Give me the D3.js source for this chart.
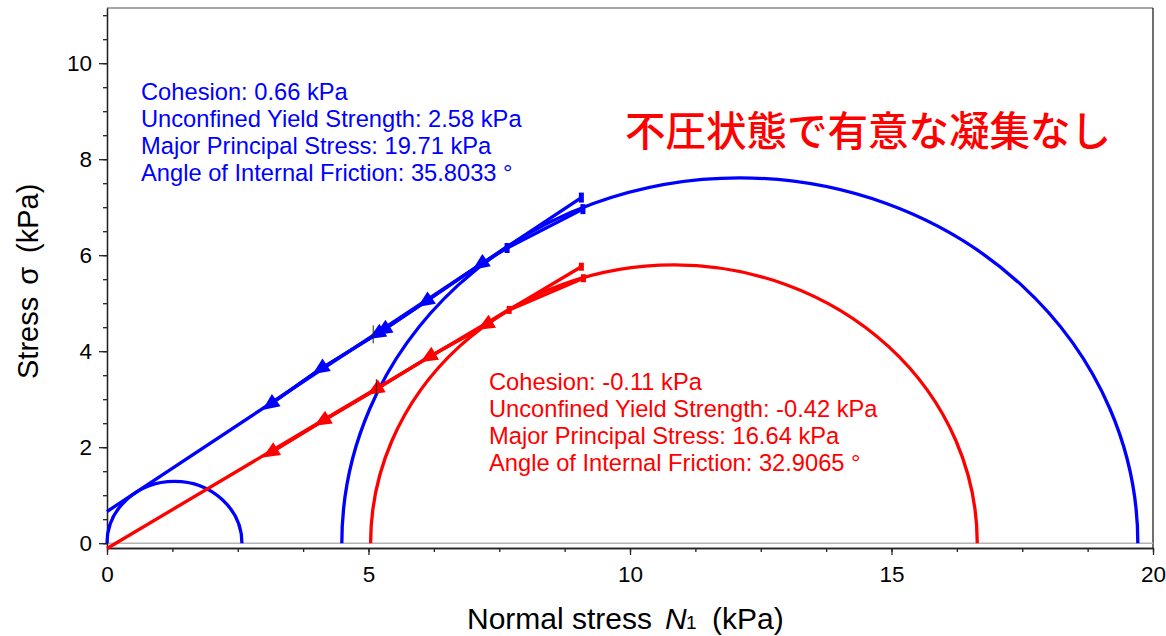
<!DOCTYPE html>
<html lang="ja">
<head>
<meta charset="UTF-8">
<title>Mohr circles</title>
<script src="https://d3js.org/d3.v7.min.js"></script>
<style>
  body { margin: 0; background: #fff; }
  text { font-family: Arial, "Liberation Sans", sans-serif; }
  .axis path, .axis line { stroke: #222; stroke-width: 1.3px; }
  .axis text { font-size: 22.5px; fill: #000; }
</style>
</head>
<body>
<svg id="chart" width="1166" height="636"></svg>
<script>
  // axis ticks
  const xMajor = [0, 5, 10, 15, 20];
  const xMinor = d3.range(0, 20.01, 1.25);
  const yMajor = [0, 2, 4, 6, 8, 10];
  const yMinor = d3.range(0, 11.01, 0.5);

  // Mohr circles as [minor, major] principal stress (kPa)
  const circlesBlue = [[0, 2.58], [4.49, 19.71]];
  const circlesRed = [[5.04, 16.64]];

  // fitted yield loci [sigma, tau]
  const fitBlue = [[0, 0.66], [9.07, 7.20]];
  const fitRed = [[0, -0.11], [9.07, 5.76]];

  // measured yield locus points, first two drawn as squares, the rest as arrows
  const locusBlue = [[9.10, 6.96], [7.65, 6.15], [7.10, 5.78], [6.05, 5.00], [5.24, 4.41], [5.12, 4.33], [4.04, 3.60], [3.08, 2.86]];
  const locusRed = [[9.11, 5.52], [7.69, 4.86], [7.20, 4.52], [6.11, 3.85], [5.09, 3.17], [4.08, 2.52], [3.09, 1.86]];

  // little black cursor marks
  const cursors = [[5.09, 4.35], [5.15, 3.23]];

  const textBlue = ["Cohesion: 0.66 kPa", "Unconfined Yield Strength: 2.58 kPa", "Major Principal Stress: 19.71 kPa", "Angle of Internal Friction: 35.8033 °"];
  const textRed = ["Cohesion: -0.11 kPa", "Unconfined Yield Strength: -0.42 kPa", "Major Principal Stress: 16.64 kPa", "Angle of Internal Friction: 32.9065 °"];
  const note = "不圧状態で有意な凝集なし";

  const BLUE = "#0000ff", RED = "#ff0000";

  const svg = d3.select("#chart");
  const x = d3.scaleLinear([0, 20], [107, 1153]);
  const y = d3.scaleLinear([-0.1, 11.15], [548, 8]);

  // frame
  svg.append("line").attr("x1", x(0)).attr("x2", x(20)).attr("y1", 8).attr("y2", 8)
    .attr("stroke", "#888").attr("stroke-width", 1.3);
  svg.append("line").attr("x1", x(20)).attr("x2", x(20)).attr("y1", 8).attr("y2", 548)
    .attr("stroke", "#222").attr("stroke-width", 1.3);

  // zero line
  svg.append("line").attr("x1", x(0)).attr("x2", x(20)).attr("y1", y(0)).attr("y2", y(0))
    .attr("stroke", "#b4b4b4").attr("stroke-width", 1.5);

  // axes
  svg.append("g").attr("class", "axis").attr("transform", "translate(0,548)")
    .call(d3.axisBottom(x).tickValues(xMinor).tickSize(4).tickSizeOuter(0).tickFormat(""));
  svg.append("g").attr("class", "axis").attr("transform", "translate(0,548)")
    .call(d3.axisBottom(x).tickValues(xMajor).tickSize(7).tickSizeOuter(0).tickPadding(11).tickFormat(d3.format("d")));
  svg.append("g").attr("class", "axis").attr("transform", "translate(107,0)")
    .call(d3.axisLeft(y).tickValues(yMinor).tickSize(4).tickSizeOuter(0).tickFormat(""));
  svg.append("g").attr("class", "axis").attr("transform", "translate(107,0)")
    .call(d3.axisLeft(y).tickValues(yMajor).tickSize(8).tickSizeOuter(0).tickPadding(7).tickFormat(d3.format("d")));

  // axis titles
  const yt = svg.append("text").attr("transform", "translate(38,379) rotate(-90)").attr("font-size", 29);
  yt.append("tspan").text("Stress");
  yt.append("tspan").attr("dx", 12).text("σ");
  yt.append("tspan").attr("dx", 14).text("(kPa)");
  const xt = svg.append("text").attr("y", 629).attr("font-size", 30);
  xt.append("tspan").attr("x", 467).text("Normal stress");
  xt.append("tspan").attr("x", 665).attr("font-style", "italic").text("N");
  xt.append("tspan").attr("x", 686).attr("font-size", 19).text("1");
  xt.append("tspan").attr("x", 712).text("(kPa)");

  // arrow markers
  const defs = svg.append("defs");
  [["arrowBlue", BLUE], ["arrowRed", RED]].forEach(([id, c]) => {
    defs.append("marker").attr("id", id).attr("markerUnits", "userSpaceOnUse")
      .attr("viewBox", "-2 -9 20 18").attr("markerWidth", 20).attr("markerHeight", 18)
      .attr("refX", 10).attr("refY", 0).attr("orient", "auto")
      .append("path").attr("d", "M0,-7.5L17,0L0,7.5Z").attr("fill", c);
  });

  const semi = d => {
    const c = (d[0] + d[1]) / 2, r = (d[1] - d[0]) / 2;
    return `M${x(d[0])},${y(0)}A${x(c + r) - x(c)},${y(0) - y(r)} 0 0 1 ${x(d[1])},${y(0)}`;
  };
  const line = d3.line().x(d => x(d[0])).y(d => y(d[1]));

  function series(circles, fit, locus, color, arrowId, sq) {
    const g = svg.append("g");
    g.selectAll("path.circle").data(circles).join("path").attr("class", "circle")
      .attr("d", semi).attr("fill", "none").attr("stroke", color).attr("stroke-width", 3.3);
    g.append("path").attr("d", line(fit)).attr("fill", "none").attr("stroke", color).attr("stroke-width", 3.3);
    g.append("path").attr("d", line(locus)).attr("fill", "none").attr("stroke", color).attr("stroke-width", 3.3);
    g.append("path").attr("d", line(locus.slice(2))).attr("fill", "none").attr("stroke", color).attr("stroke-width", 3.3)
      .attr("marker-start", `url(#${arrowId})`).attr("marker-mid", `url(#${arrowId})`).attr("marker-end", `url(#${arrowId})`);
    const sqPts = [fit[1], locus[0], locus[1]];
    g.selectAll("rect").data(sqPts).join("rect")
      .attr("x", d => x(d[0]) - sq[0] / 2).attr("y", d => y(d[1]) - sq[1] / 2)
      .attr("width", sq[0]).attr("height", sq[1]).attr("fill", color);
  }
  series(circlesBlue, fitBlue, locusBlue, BLUE, "arrowBlue", [5, 10]);
  series(circlesRed, fitRed, locusRed, RED, "arrowRed", [5, 8]);

  svg.append("g").selectAll("line").data(cursors).join("line")
    .attr("x1", d => x(d[0])).attr("x2", d => x(d[0]))
    .attr("y1", d => y(d[1]) - 9).attr("y2", d => y(d[1]) + 9)
    .attr("stroke", "#222").attr("stroke-width", 1);

  // annotations
  svg.append("g").selectAll("text").data(textBlue).join("text")
    .attr("x", 141).attr("y", (d, i) => 99.5 + i * 27).attr("font-size", 23.7).attr("fill", BLUE).text(d => d);
  svg.append("g").selectAll("text").data(textRed).join("text")
    .attr("x", 489).attr("y", (d, i) => 389.5 + i * 27).attr("font-size", 23.7).attr("fill", RED).text(d => d);
  svg.append("text").attr("x", 625).attr("y", 146).attr("font-size", 40.5).attr("font-weight", 500).attr("fill", RED)
    .style("font-family", "'Noto Sans CJK JP', sans-serif").text(note);
</script>
</body>
</html>
